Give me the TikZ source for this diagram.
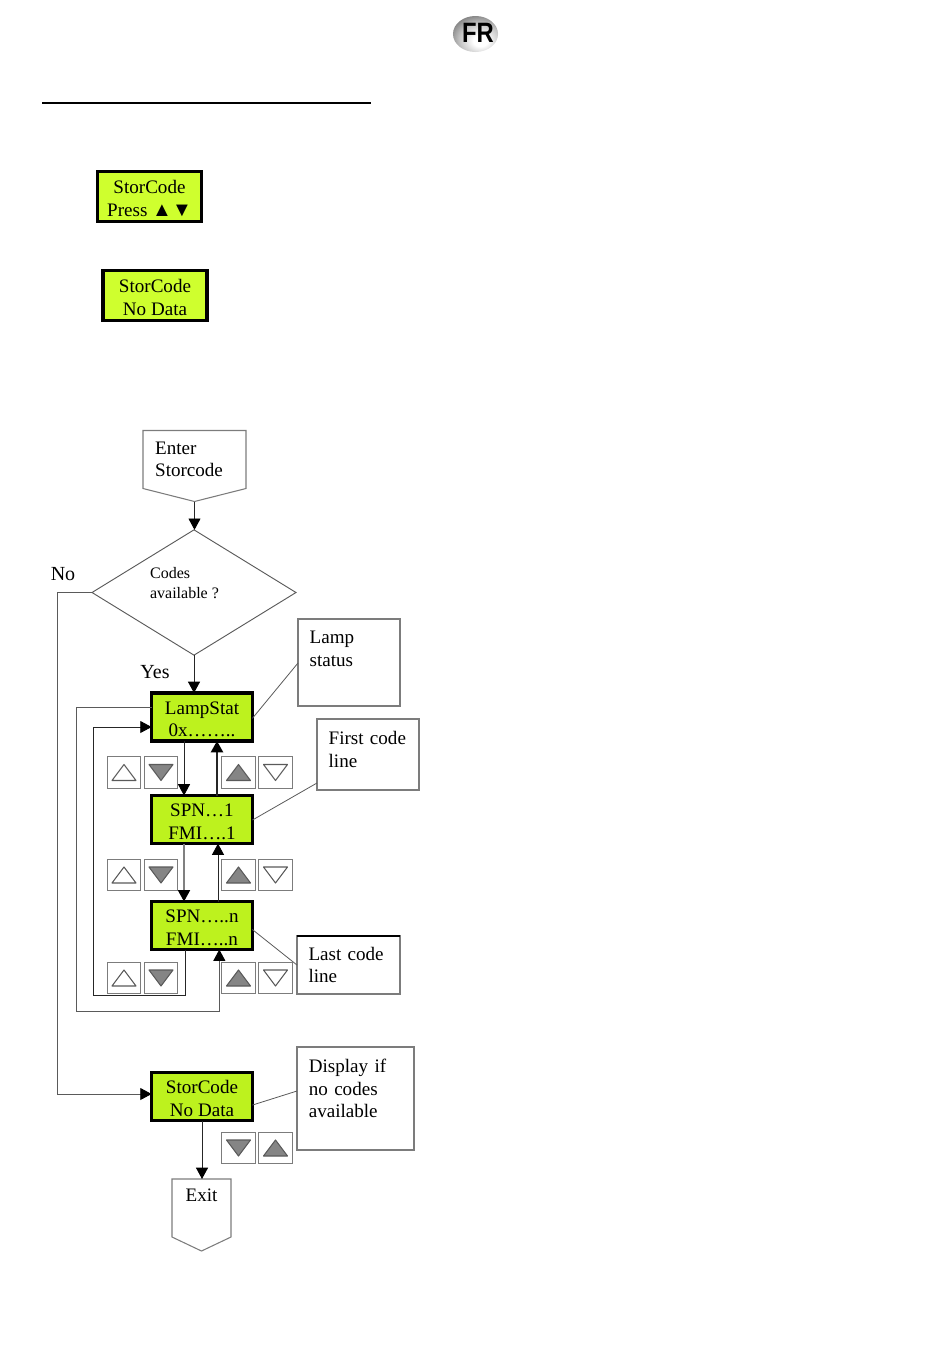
\documentclass[tikz,border=0pt]{standalone}
\usepackage{fontspec}
\setmainfont{Liberation Serif}
\newfontfamily\badgefont{Liberation Sans}
\usetikzlibrary{shapes,arrows.meta,positioning,calc}
\definecolor{lcdpale}{HTML}{CFFF2E}
\definecolor{lcdgreen}{HTML}{BDF21E}
\definecolor{framegray}{HTML}{7C7C7C}
\definecolor{wiregray}{HTML}{5A5A5A}
\definecolor{trigray}{HTML}{858585}
\pgfdeclareradialshading{badgeball}{\pgfpoint{6bp}{-10bp}}{color(0bp)=(white);color(8bp)=(white);color(22bp)=(gray!45);color(34bp)=(gray);color(48bp)=(black!75);color(100bp)=(black!75)}
\tikzset{every node/.style={font=\fontsize{14.3pt}{17pt}\selectfont},
lcd/.style={draw,rectangle,line width=2.4pt,outer sep=0pt,fill=lcdgreen,align=center,
  inner sep=0pt,minimum width=75.6pt,minimum height=36pt,text height=30pt},
toplcd/.style={lcd,fill=lcdpale,minimum width=78pt,minimum height=37.5pt},
note/.style={draw=framegray,rectangle,line width=0.8pt,outer sep=0pt,align=left,
  inner xsep=8.5pt,inner ysep=0pt,anchor=north west},
tag/.style={rectangle,outer sep=0pt,inner sep=0pt},
btn/.style={draw=framegray,fill=white,rectangle,line width=0.9pt,inner sep=0pt,
  minimum width=25pt,minimum height=23.5pt},
tri/.style={draw=wiregray,line width=0.8pt,line join=round},
wire/.style={draw=black!85,line width=0.7pt,-{Triangle[length=8.5pt,width=9pt,color=black]}},
greywire/.style={wire,draw=wiregray},
lead/.style={draw=wiregray,line width=0.6pt}
}
\begin{document}
\begin{tikzpicture}[x=0.75pt,y=-0.75pt,node distance=76.9pt,on grid]
        \useasboundingbox (0,0) rectangle (950,1360);

        % badge and heading rule
        \node[ellipse,minimum width=33.8pt,minimum height=27pt,inner sep=0pt,shading=badgeball] (badge) at (475.5,34) {};
        \node[font=\badgefont\bfseries\fontsize{21pt}{21pt}\selectfont,xscale=0.85] (badgetext) at (478,32.5) {FR};
        \coordinate (rulea) at (42,103);
        \coordinate (ruleb) at (371,103);
        \draw[line width=1.3pt] (rulea) -- (ruleb);

        % displays at the top
        \node[toplcd] (press)  at (149.5,196.5) {StorCode\\Press {\fontsize{15pt}{17pt}\selectfont ▲▼}};
        \node[toplcd] (nodatb) at (155,295.5)   {StorCode\\No Data};

        % start and decision
        \node[tag,minimum width=77.25pt,minimum height=43.5pt,text width=59pt,align=left] (enter) at (194.5,459.5) {Enter\\Storcode};
        \draw[draw=framegray,line width=0.8pt] (enter.north west) -- (enter.north east) -- (enter.south east)
              -- ($(enter.south)+(0,13)$) coordinate (entertip) -- (enter.south west) -- cycle;
        \node[diamond,draw=wiregray,line width=0.7pt,inner sep=0pt,outer sep=0pt,aspect=1.63,
              minimum width=153pt,minimum height=94pt] (codes) at (194,592.5) {};
        \node[align=left,font=\fontsize{12pt}{15pt}\selectfont] (codestext) at (184.5,583.5) {Codes\\available ?};
        \node[font=\fontsize{15pt}{17pt}\selectfont] (no)  at (63,574)  {No};
        \node[font=\fontsize{15pt}{17pt}\selectfont] (yes) at (155,672) {Yes};

        % displays of the flow
        \node[lcd]                          (lamp)   at (202,717) {LampStat\\0x……..};
        \node[lcd,below=of lamp]            (spna)                {SPN…1\\FMI….1};
        \node[lcd,below=79.5pt of spna]     (spnn)                {SPN…..n\\FMI…..n};
        \node[lcd,below=128.25pt of spnn]   (nodata)              {StorCode\\No Data};

        % end
        \node[tag,minimum width=44.25pt,minimum height=43.5pt,align=center] (exit) at (201.5,1208) {Exit\\[2.5pt]\mbox{}};
        \draw[draw=framegray,line width=0.8pt] (exit.north west) -- (exit.north east) -- (exit.south east)
              -- ($(exit.south)+(0,14)$) -- (exit.south west) -- cycle;

        % notes
        \node[note,minimum width=76.5pt,minimum height=65.25pt,text width=59pt]  (lampnote)  at (298,619)  {Lamp\\status\\[4pt]\mbox{}};
        \node[note,minimum width=76.5pt,minimum height=53.25pt,text width=59pt]  (firstnote) at (317,719)  {First code\\line\\[-9.5pt]\mbox{}};
        \node[note,minimum width=77.25pt,minimum height=43.5pt,text width=60pt]  (lastnote)  at (297,936)  {Last code\\line};
        \node[note,minimum width=87.75pt,minimum height=77.25pt,text width=70pt] (dispnote)  at (297,1047) {Display if\\no codes\\available\\[-2pt]\mbox{}};
        \draw[line width=0.8pt] (lastnote.north west) -- (lastnote.north east);

        \draw[lead] ([yshift=-1pt]lamp.east)    -- (lampnote.west |- 0,663);
        \draw[lead] ([yshift=-0.4pt]spna.east)  -- (firstnote.west |- 0,783);
        \draw[lead] ([yshift=-3pt]spnn.east)    -- (lastnote.west |- 0,965);
        \draw[lead] ([yshift=-6.4pt]nodata.east) -- (dispnote.west |- 0,1091);

        % key buttons
        \foreach \bx/\by/\bdir/\bfill [count=\bn] in {
            124/772.5/1/white,   161/772.5/-1/trigray, 238.5/772.5/1/trigray, 275.5/772.5/-1/white,
            124/875/1/white,     161/875/-1/trigray,   238.5/875/1/trigray,   275.5/875/-1/white,
            124/978/1/white,     161/978/-1/trigray,   238.5/978/1/trigray,   275.5/978/-1/white,
            238.5/1148/-1/trigray, 275.5/1148/1/trigray} {
          \node[btn] (btn\bn) at (\bx,\by) {};
          \draw[tri,fill=\bfill] ([shift={(-12,8*\bdir)}]btn\bn.center) -- ([shift={(12,8*\bdir)}]btn\bn.center)
                -- ([shift={(0,-8*\bdir)}]btn\bn.center) -- cycle;
        }

        % connectors
        \draw[wire] (entertip) -- (entertip |- codes.north);
        \draw[wire] (codes.south) -- (codes.south |- lamp.north);
        \draw[wire] ([xshift=-13.5pt]lamp.south) -- ([xshift=-13.5pt]spna.north);
        \draw[wire,line width=1.8pt] ([xshift=11.25pt]spna.north) -- ([xshift=11.25pt]lamp.south);
        \draw[greywire,draw=gray,line width=1.1pt] ([xshift=-13.5pt]spna.south) -- ([xshift=-13.5pt]spnn.north);
        \draw[wire] ([xshift=12pt]spnn.north) -- ([xshift=12pt]spna.south);
        \draw[greywire] ([yshift=7.5pt]lamp.west) -| (76,1011) -| ([xshift=13pt]spnn.south);
        \draw[wire] ([xshift=-12.75pt]spnn.south) |- (93,995) |- ([yshift=-7.5pt]lamp.west);
        \draw[greywire] (codes.west) -| (57,1094) -- ([yshift=1.9pt]nodata.west);
        \draw[wire] (nodata.south) -- (nodata.south |- exit.north);
      \end{tikzpicture}
\end{document}
